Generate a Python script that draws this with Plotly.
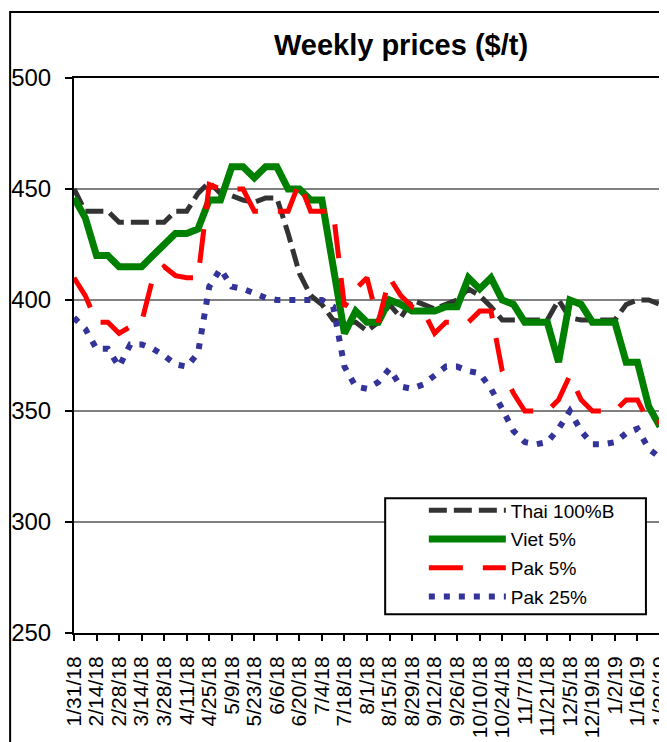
import plotly.graph_objects as go
import pandas as pd

FONT = "Liberation Sans, Arial, sans-serif"

# weekly observations, 1/31/18 .. 1/30/19
WEEKS = pd.date_range("2018-01-31", periods=53, freq="7D")
CATEGORIES = [f"{d.month}/{d.day}/{d.strftime('%y')}" for d in WEEKS]
TICK_LABELS = CATEGORIES[::2]

THAI_100B = [
    450, 440, 440, 440, 435, 435, 435, 435, 435, 440, 440, 448, 453,
    448, 447, 445, 444, 446, 446, 430, 412, 402, 398, 391, 390, 390,
    386, 390, 398, 392, 400, 398, 396, 398, 400, 405, 402, 397, 391,
    391, 391, 391, 391, 400, 392, 391, 391, 391, 391, 398, 400, 400, 398,
]
VIET_5 = [
    446, 437, 420, 420, 415, 415, 415, 420, 425, 430, 430, 432, 445,
    445, 460, 460, 455, 460, 460, 450, 450, 445, 445, 415, 385, 395,
    390, 390, 400, 398, 395, 395, 395, 397, 397, 410, 405, 410, 400,
    398, 390, 390, 390, 372, 400, 398, 390, 390, 390, 372, 372, 352, 343,
]
PAK_5 = [
    410, 402, 390, 390, 385, 388, 390, 410, 415, 411, 410, 410, 452,
    450, 450, 450, 440, 440, 440, 440, 453, 440, 440, 440, 397, 405,
    410, 390, 410, 402, 397, 395, 385, 390, 390, 390, 395, 395, 368,
    358, 350, 350, 350, 355, 366, 355, 350, 350, 350, 355, 355, 345, 345,
]
PAK_25 = [
    392, 387, 378, 378, 370, 380, 380, 378, 375, 371, 370, 376, 406,
    414, 406, 405, 403, 401, 400, 400, 400, 400, 400, 397, 370, 361,
    360, 363, 369, 361, 360, 362, 366, 370, 370, 368, 367, 360, 351,
    341, 336, 335, 336, 342, 350, 341, 335, 335, 336, 340, 342, 333, 329,
]

SERIES = [
    ("Thai 100%B", THAI_100B, "#333333", 5, "18px,7px"),
    ("Viet 5%", VIET_5, "#008000", 7, "solid"),
    ("Pak 5%", PAK_5, "#FF0000", 5, "34px,20px"),
    ("Pak 25%", PAK_25, "#333399", 6, "6px,9px"),
]

fig = go.Figure()
for name, values, color, width, dash in SERIES:
    fig.add_trace(go.Scatter(
        x=CATEGORIES,
        y=values,
        name=name,
        legendgroup=name,
        mode="lines",
        line=dict(color=color, width=width, dash=dash),
        hovertemplate="<b>" + name + "</b><br>%{x}<br>$%{y}/t<extra></extra>",
    ))

# the page body adds an 8px offset, so the figure is 8px smaller than the window
fig.update_layout(
    template="none",
    width=659,
    height=734,
    paper_bgcolor="white",
    plot_bgcolor="white",
    margin=dict(t=70, b=109, l=66, r=7),
    font=dict(family=FONT, color="black"),
    title=dict(
        text="<b>Weekly prices ($/t)</b>",
        font=dict(size=29, family=FONT),
        x=0.558, xref="paper", xanchor="center",
        y=0.95, yref="container", yanchor="middle",
    ),
    showlegend=True,
    legend=dict(
        x=0.597, y=0.255, xanchor="left", yanchor="top",
        bgcolor="rgba(0,0,0,0)", borderwidth=0,
        font=dict(size=19, family=FONT),
        itemwidth=77,
        traceorder="grouped",
        tracegroupgap=1,
    ),
    xaxis=dict(
        type="category",
        range=[0, len(CATEGORIES) - 1],
        tickmode="array",
        tickvals=TICK_LABELS,
        ticktext=TICK_LABELS,
        tickangle=-90,
        tickfont=dict(size=21),
        ticks="outside", ticklen=6, tickwidth=2, tickcolor="black",
        ticklabelstandoff=7,
        showline=True, linecolor="black", linewidth=2, mirror=True,
        showgrid=False, zeroline=False, automargin=False,
    ),
    yaxis=dict(
        range=[250, 500],
        dtick=50,
        tickfont=dict(size=24),
        ticks="outside", ticklen=7, tickwidth=2, tickcolor="black",
        ticklabelstandoff=9,
        showline=True, linecolor="black", linewidth=2, mirror=True,
        showgrid=True, gridcolor="#808080", gridwidth=2,
        zeroline=False, automargin=False,
    ),
    shapes=[
        # outer chart frame
        dict(
            type="rect", xref="paper", yref="paper",
            x0=-0.109, x1=1.2, y0=-0.4, y1=1.119,
            line=dict(color="black", width=2),
            layer="below",
        ),
        # legend frame
        dict(
            type="rect", xref="paper", yref="paper",
            x0=0.531, x1=0.976, y0=0.034, y1=0.243,
            line=dict(color="black", width=2),
            fillcolor="white",
            layer="above",
        ),
    ],
)

fig.write_html("out.html")
